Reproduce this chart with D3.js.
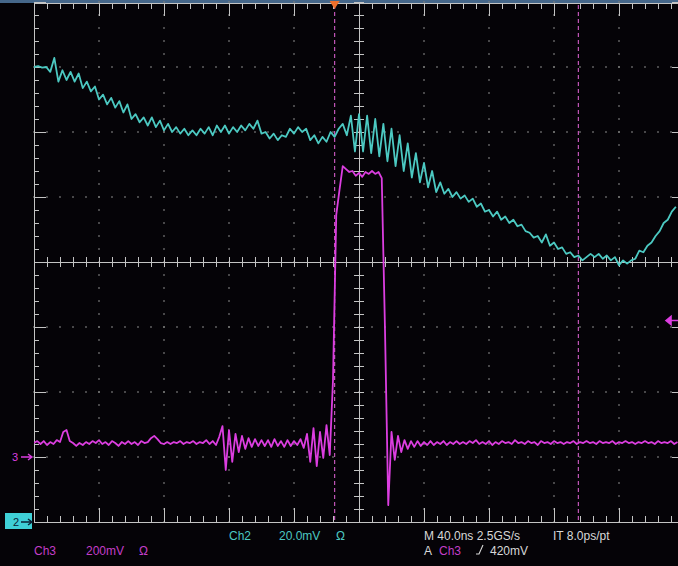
<!DOCTYPE html>
<html>
<head>
<meta charset="utf-8">
<script src="https://cdn.jsdelivr.net/npm/d3@7"></script>
<style>
  body { margin: 0; background: #000; }
  svg { display: block; }
  text { font-family: "Liberation Sans", Arial, sans-serif; }
</style>
</head>
<body>
<svg id="scope" width="678" height="566"></svg>
<script>
// Acquisition: 40 ns/div, 10 divisions. Samples.
const ch2StepNs = 2.5;
const ch3StepNs = 2;

// Ch2 (20 mV/div, ground at -4 div), mV
const ch2mV = [
  140, 140.3, 139.8, 140, 138.5, 142.8, 135.5, 139, 136, 138.5,
  135.5, 138, 133.5, 135.5, 132.5, 134, 130, 131.5, 128.5, 130.5,
  127.5, 129.5, 126, 128.5, 124, 125.5, 123, 124.5, 122, 124.5,
  121.5, 123.5, 120.5, 122.5, 120, 121.5, 119.5, 121, 119, 120.5,
  119, 121, 119.5, 121.5, 119, 122, 120, 122, 119.5, 121.5,
  120, 122, 120.5, 122.5, 121, 123.5, 119.5, 120, 118, 119.5,
  117.5, 119, 118.5, 121, 119.5, 121.5, 120, 121, 117.5, 119,
  116.5, 118.5, 117, 120, 118.5, 121, 122.5, 119, 125, 114,
  125.5, 114, 125, 113.5, 124, 112.5, 122.5, 111, 121, 109.5,
  119, 108, 116.5, 106, 113.5, 104.5, 110.5, 103, 108, 101.5,
  104.5, 101, 102.5, 100, 101.5, 99.5, 100.5, 98.5, 99.5, 97,
  98, 95.5, 96, 94, 95.5, 93, 94, 92, 93, 91,
  91.5, 89.5, 89, 87.5, 88, 86, 88.5, 85, 86, 84,
  84.5, 82.5, 83, 81.5, 82, 80.5, 81.5, 82.5, 81.5, 82.5,
  81, 82, 80.5, 81.5, 79, 80.5, 79.5, 80.5, 81, 83.5,
  83, 85, 86, 88, 89.5, 92, 93, 95.5, 97
];

// Ch3 (200 mV/div, ground at -3 div), mV
const ch3mV = [
  43, 49, 40, 49, 37, 46, 40, 52, 46, 77,
  83, 49, 43, 34, 43, 37, 46, 40, 49, 43,
  52, 40, 46, 37, 49, 43, 34, 46, 40, 49,
  40, 46, 37, 49, 43, 46, 58, 65, 55, 43,
  40, 46, 40, 46, 43, 49, 40, 46, 43, 49,
  40, 46, 43, 52, 40, 49, 37, 62, 95, -40,
  83, -15, 71, 15, 65, 25, 58, 31, 55, 34,
  52, 34, 52, 31, 55, 34, 49, 31, 52, 34,
  49, 37, 55, 28, 71, -15, 89, -28, 77, -3,
  98, 6, 237, 745, 822, 895, 886, 877, 880, 865,
  874, 862, 877, 871, 880, 871, 877, 858, 391, -148,
  77, -9, 65, 15, 52, 25, 49, 31, 49, 34,
  46, 37, 49, 37, 46, 40, 49, 37, 46, 40,
  49, 40, 46, 40, 49, 43, 52, 40, 46, 40,
  49, 37, 46, 40, 49, 43, 46, 40, 52, 43,
  46, 40, 49, 43, 46, 37, 49, 43, 46, 40,
  49, 43, 46, 40, 46, 43, 49, 40, 46, 43,
  49, 43, 46, 40, 49, 43, 46, 43, 49, 40,
  46, 43, 49, 43, 46, 40, 46, 43, 49, 43,
  46, 40, 49, 43, 46, 43, 49, 40, 46
];

const cursorsNs = [185, 335];
const triggerNs = 185;
const triggerLevelmV = 420;

const ch2Info = ['Ch2', '20.0mV', 'Ω'];
const ch3Info = ['Ch3', '200mV', 'Ω'];
const timebaseInfo = ['M 40.0ns 2.5GS/s', 'IT 8.0ps/pt'];
const triggerInfo = ['A', 'Ch3', '420mV'];

const cyan = '#4cc9c2', magenta = '#dc3ee0', grid = '#c4c4c4', dot = '#7c7c7c';

const svg = d3.select('#scope');
svg.append('rect').attr('width', 678).attr('height', 566).attr('fill', '#050307');

const x = d3.scaleLinear().domain([0, 400]).range([34, 684]);
const y = d3.scaleLinear().domain([-4, 4]).range([522, 2]);
const ch2Div = v => v / 20 - 4;
const ch3Div = v => v / 200 - 3;

// top status strip
svg.append('rect').attr('x', 0).attr('y', 0).attr('width', 678).attr('height', 3).attr('fill', '#46678a');

const g = svg.append('g');
const majorX = d3.range(0, 401, 40), minorX = d3.range(0, 401, 8);
const majorY = d3.range(-4, 4.01, 1), minorY = d3.range(-4, 4.01, 0.2).map(v => +v.toFixed(1));
const isMajor = v => Math.abs(v - Math.round(v)) < 1e-6;

// dotted graticule lines
const dots = [];
majorX.filter(t => t !== 0 && t !== 200 && t !== 400).forEach(t => minorY.forEach(v => dots.push([x(t), y(v)])));
majorY.filter(v => v !== -4 && v !== 0 && v !== 4).forEach(v => minorX.forEach(t => dots.push([x(t), y(v)])));
g.selectAll('rect.dot').data(dots).join('rect')
    .attr('class', 'dot')
    .attr('x', d => d[0] - 0.75).attr('y', d => d[1] - 0.75)
    .attr('width', 1.5).attr('height', 1.5)
    .attr('fill', dot);

const line = (x1, y1, x2, y2) => g.append('line')
    .attr('x1', x1).attr('y1', y1).attr('x2', x2).attr('y2', y2)
    .attr('stroke', grid).attr('stroke-width', 1).attr('shape-rendering', 'crispEdges');

// frame
line(x(0), y(4) + 1, x(0), y(-4));
line(x(0), y(-4), x(400), y(-4));
line(x(0), y(4) + 1, x(400), y(4) + 1);
line(x(400), y(4), x(400), y(-4));

// center cross
line(x(200), y(4), x(200), y(-4));
line(x(0), y(0), x(400), y(0));

minorX.forEach(t => {
  const m = isMajor(t / 40);
  line(x(t), y(4) + 1, x(t), y(4) + (m ? 14 : 7));
  line(x(t), y(-4), x(t), y(-4) - (m ? 14 : 6));
  line(x(t), y(0) - 5, x(t), y(0) + 5);
});
minorY.forEach(v => {
  const m = isMajor(v);
  line(x(0), y(v), x(0) + (m ? 12 : 5), y(v));
  line(x(400), y(v), x(400) - (m ? 12 : 5), y(v));
  line(x(200) - 5, y(v), x(200) + 5, y(v));
});

// cursors
g.selectAll('line.cursor').data(cursorsNs).join('line')
    .attr('class', 'cursor')
    .attr('x1', d => x(d)).attr('x2', d => x(d))
    .attr('y1', y(4) + 3).attr('y2', y(-4))
    .attr('stroke', '#c255b8').attr('stroke-width', 1.2)
    .attr('stroke-dasharray', '4,3');

// traces
const plot = svg.append('g');
plot.append('clipPath').attr('id', 'clip')
  .append('rect').attr('x', x(0)).attr('y', y(4)).attr('width', x(400) - x(0)).attr('height', y(-4) - y(4));

const ch2Line = d3.line().x((d, i) => x(i * ch2StepNs)).y(d => y(ch2Div(d)));
const ch3Line = d3.line().x((d, i) => x(i * ch3StepNs)).y(d => y(ch3Div(d)));

plot.append('path').datum(ch2mV).attr('clip-path', 'url(#clip)')
    .attr('d', ch2Line).attr('fill', 'none')
    .attr('stroke', cyan).attr('stroke-width', 1.8).attr('stroke-linejoin', 'round');
plot.append('path').datum(ch3mV).attr('clip-path', 'url(#clip)')
    .attr('d', ch3Line).attr('fill', 'none')
    .attr('stroke', magenta).attr('stroke-width', 1.8).attr('stroke-linejoin', 'round');

// trigger position marker
const tx = x(triggerNs);
svg.append('path').attr('d', `M${tx - 5},1 L${tx + 5},1 L${tx},9 Z`).attr('fill', '#f0702c');

// trigger level marker (right edge)
const ty = y(ch3Div(triggerLevelmV));
svg.append('path')
    .attr('d', `M666,${ty} L671,${ty - 4} L671,${ty + 4} Z M670,${ty} L678,${ty}`)
    .attr('fill', magenta).attr('stroke', magenta).attr('stroke-width', 1.6);

// ch3 ground marker
const g3 = y(ch3Div(0));
svg.append('text').attr('x', 12).attr('y', g3 + 4).attr('fill', magenta)
    .attr('font-size', 11).text('3');
svg.append('path').attr('d', `M21,${g3} L31,${g3} M28,${g3 - 3} L32,${g3} L28,${g3 + 3}`)
    .attr('fill', 'none').attr('stroke', magenta).attr('stroke-width', 1.4);

// ch2 ground marker
const g2 = y(ch2Div(0));
svg.append('rect').attr('x', 5).attr('y', g2 - 9).attr('width', 27).attr('height', 16).attr('fill', '#3fd0d6');
svg.append('text').attr('x', 13).attr('y', g2 + 4).attr('fill', '#0b2236')
    .attr('font-size', 11).text('2');
svg.append('path').attr('d', `M21,${g2} L31,${g2} M28,${g2 - 3} L32,${g2} L28,${g2 + 3}`)
    .attr('fill', 'none').attr('stroke', '#0b2236').attr('stroke-width', 1.4);

// readouts
const label = (tx, ty, str, fill) => svg.append('text')
    .attr('x', tx).attr('y', ty).attr('fill', fill).attr('font-size', 12).text(str);

label(229, 540, ch2Info[0], cyan);
label(279, 540, ch2Info[1], cyan);
label(336, 540, ch2Info[2], cyan);
label(34, 555, ch3Info[0], '#c43ec8');
label(86, 555, ch3Info[1], '#c43ec8');
label(139, 555, ch3Info[2], '#c43ec8');
label(424, 540, timebaseInfo[0], '#d8d8d8');
label(553, 540, timebaseInfo[1], '#d8d8d8');
label(424, 555, triggerInfo[0], '#d8d8d8');
label(439, 555, triggerInfo[1], '#c43ec8');
svg.append('path').attr('d', 'M476,554 L479,554 L483,545').attr('fill', 'none')
    .attr('stroke', '#d8d8d8').attr('stroke-width', 1.1);
label(490, 555, triggerInfo[2], '#d8d8d8');
</script>
</body>
</html>
